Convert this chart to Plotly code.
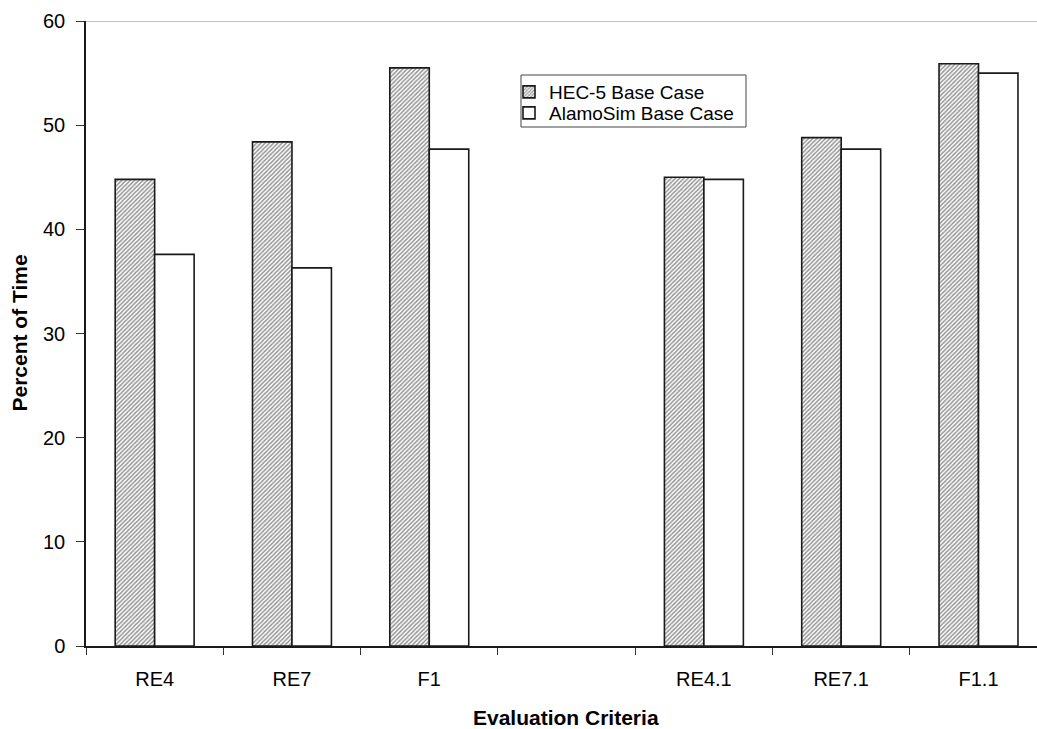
import plotly.graph_objects as go

# Evaluation criteria (a blank slot separates the two groups)
categories = ["RE4", "RE7", "F1", " ", "RE4.1", "RE7.1", "F1.1"]
hec5_base = [44.8, 48.4, 55.5, None, 45.0, 48.8, 55.9]
alamosim_base = [37.6, 36.3, 47.7, None, 44.8, 47.7, 55.0]

FONT = "Liberation Sans, Arial, sans-serif"

# pixel -> paper helpers for the 86..1037 x 21..646 plot area
def px(x):
    return (x - 86) / 951

def py(y):
    return (646 - y) / 625

fig = go.Figure()
fig.add_trace(go.Bar(
    name="HEC-5 Base Case",
    x=categories,
    y=hec5_base,
    legend="legend",
    marker=dict(
        color="white",
        line=dict(color="#1a1a1a", width=1.6),
        pattern=dict(shape="/", fgcolor="#2a2a2a", bgcolor="white", size=3, solidity=0.5),
    ),
))
fig.add_trace(go.Bar(
    name="AlamoSim Base Case",
    x=categories,
    y=alamosim_base,
    legend="legend2",
    marker=dict(color="white", line=dict(color="#1a1a1a", width=1.6)),
))

# Top edge of the plot area
fig.add_shape(type="line", xref="paper", yref="y", x0=0, x1=1, y0=60, y1=60,
              line=dict(color="#888888", width=1.2))

# Legend frame
fig.add_shape(type="rect", xref="paper", yref="paper",
              x0=px(521), x1=px(746), y0=py(127), y1=py(75),
              line=dict(color="#444444", width=1), fillcolor="white", layer="below")

# Axis titles
fig.add_annotation(text="<b>Evaluation Criteria</b>", xref="paper", yref="paper",
                   x=px(566), y=py(717), showarrow=False,
                   xanchor="center", yanchor="middle", font=dict(size=21, family=FONT))
fig.add_annotation(text="<b>Percent of Time</b>", xref="paper", yref="paper",
                   x=px(19), y=0.5, showarrow=False, textangle=-90,
                   xanchor="center", yanchor="middle", font=dict(size=21, family=FONT))

legend_style = dict(
    xanchor="left", yanchor="middle",
    bgcolor="rgba(0,0,0,0)", borderwidth=0,
    font=dict(size=19, family=FONT),
    itemwidth=30,
)

fig.update_layout(
    width=1037,
    height=729,
    margin=dict(l=86, r=0, t=21, b=83),
    paper_bgcolor="white",
    plot_bgcolor="white",
    barmode="group",
    bargap=0.425,
    bargroupgap=0,
    font=dict(family=FONT, color="black", size=20),
    showlegend=True,
    legend=dict(x=px(509), y=py(92), **legend_style),
    legend2=dict(x=px(509), y=py(113), **legend_style),
    xaxis=dict(
        type="category",
        categoryorder="array",
        categoryarray=categories,
        range=[-0.5, 6.426],
        tickson="boundaries",
        ticks="outside",
        ticklen=7,
        tickcolor="#333333",
        showline=True,
        linecolor="#1a1a1a",
        linewidth=1.5,
        showgrid=False,
        zeroline=False,
        ticklabelstandoff=14,
        tickfont=dict(size=20),
    ),
    yaxis=dict(
        range=[0, 60],
        tickvals=[0, 10, 20, 30, 40, 50, 60],
        ticks="outside",
        ticklen=8,
        tickcolor="#333333",
        showline=True,
        linecolor="#1a1a1a",
        linewidth=1.5,
        showgrid=False,
        zeroline=False,
        ticklabelstandoff=7,
        tickfont=dict(size=20),
    ),
)

fig.write_html("out.html")
